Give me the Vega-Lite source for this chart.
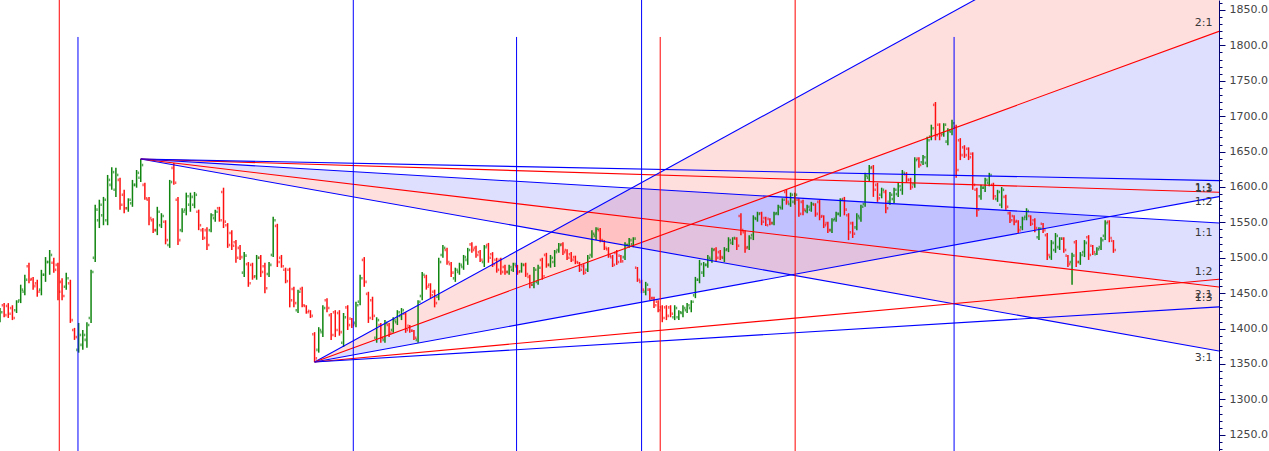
{
"$schema":"https://vega.github.io/schema/vega-lite/v6.json",
"width":1219,"height":451,
"autosize":{"type":"none"},
"padding":{"left":0,"top":0,"right":50,"bottom":0},
"background":"white",
"config":{"view":{"stroke":null}},
"resolve":{"scale":{"y":"shared","x":"shared"},"axis":{"y":"independent"}},
"datasets":{
"bars":[
{"t":0,"o":1415,"h":1429,"l":1409,"c":1423},{"t":1,"o":1433,"h":1436,"l":1416,"c":1419},{"t":2,"o":1432,"h":1436,"l":1415,"c":1421},{"t":3,"o":1429,"h":1433,"l":1412,"c":1415},{"t":4,"o":1426,"h":1440,"l":1422,"c":1438},{"t":5,"o":1440,"h":1462,"l":1436,"c":1455},{"t":6,"o":1452,"h":1476,"l":1447,"c":1469},{"t":7,"o":1488,"h":1493,"l":1464,"c":1469},{"t":8,"o":1470,"h":1473,"l":1455,"c":1460},{"t":9,"o":1464,"h":1469,"l":1445,"c":1452},
{"t":10,"o":1455,"h":1483,"l":1447,"c":1476},{"t":11,"o":1476,"h":1501,"l":1466,"c":1494},{"t":12,"o":1494,"h":1511,"l":1476,"c":1504},{"t":13,"o":1493,"h":1500,"l":1479,"c":1483},{"t":14,"o":1490,"h":1493,"l":1440,"c":1452},{"t":15,"o":1466,"h":1471,"l":1440,"c":1446},{"t":16,"o":1459,"h":1479,"l":1455,"c":1471},{"t":17,"o":1464,"h":1469,"l":1408,"c":1412},{"t":18,"o":1398,"h":1401,"l":1384,"c":1388},{"t":19,"o":1370,"h":1408,"l":1366,"c":1391},
{"t":20,"o":1377,"h":1398,"l":1370,"c":1391},{"t":21,"o":1384,"h":1409,"l":1373,"c":1405},{"t":22,"o":1415,"h":1483,"l":1408,"c":1480},{"t":23,"o":1500,"h":1575,"l":1494,"c":1568},{"t":24,"o":1553,"h":1582,"l":1542,"c":1575},{"t":25,"o":1560,"h":1586,"l":1546,"c":1582},{"t":26,"o":1553,"h":1617,"l":1546,"c":1610},{"t":27,"o":1603,"h":1628,"l":1596,"c":1621},{"t":28,"o":1596,"h":1627,"l":1586,"c":1617},{"t":29,"o":1610,"h":1613,"l":1568,"c":1575},
{"t":30,"o":1589,"h":1596,"l":1563,"c":1570},{"t":31,"o":1570,"h":1584,"l":1565,"c":1582},{"t":32,"o":1577,"h":1610,"l":1572,"c":1603},{"t":33,"o":1603,"h":1624,"l":1599,"c":1620},{"t":34,"o":1613,"h":1639.5,"l":1607,"c":1631},{"t":35,"o":1603,"h":1606,"l":1582,"c":1584},{"t":36,"o":1582,"h":1586,"l":1546,"c":1556},{"t":37,"o":1553,"h":1556,"l":1535,"c":1539},{"t":38,"o":1539,"h":1572,"l":1532,"c":1565},{"t":39,"o":1546,"h":1563,"l":1542,"c":1559},
{"t":40,"o":1551,"h":1553,"l":1519,"c":1525},{"t":41,"o":1518,"h":1610,"l":1514,"c":1607},{"t":42,"o":1627,"h":1634,"l":1603,"c":1606},{"t":43,"o":1582,"h":1586,"l":1518,"c":1525},{"t":44,"o":1539,"h":1570,"l":1536,"c":1565},{"t":45,"o":1568,"h":1592,"l":1560,"c":1587},{"t":46,"o":1575,"h":1592,"l":1565,"c":1586},{"t":47,"o":1575,"h":1593,"l":1570,"c":1589},{"t":48,"o":1565,"h":1568,"l":1539,"c":1546},{"t":49,"o":1539,"h":1542,"l":1525,"c":1528},
{"t":50,"o":1539,"h":1543,"l":1511,"c":1518},{"t":51,"o":1539,"h":1563,"l":1536,"c":1560},{"t":52,"o":1556,"h":1568,"l":1551,"c":1565},{"t":53,"o":1570,"h":1572,"l":1551,"c":1553},{"t":54,"o":1593,"h":1599,"l":1542,"c":1551},{"t":55,"o":1546,"h":1549,"l":1514,"c":1518},{"t":56,"o":1535,"h":1539,"l":1511,"c":1517},{"t":57,"o":1522,"h":1525,"l":1493,"c":1500},{"t":58,"o":1514,"h":1518,"l":1497,"c":1501},{"t":59,"o":1479,"h":1508,"l":1473,"c":1503},
{"t":60,"o":1491,"h":1494,"l":1459,"c":1464},{"t":61,"o":1490,"h":1493,"l":1469,"c":1473},{"t":62,"o":1474,"h":1504,"l":1469,"c":1500},{"t":63,"o":1500,"h":1504,"l":1473,"c":1480},{"t":64,"o":1488,"h":1493,"l":1450,"c":1457},{"t":65,"o":1477,"h":1494,"l":1473,"c":1490},{"t":66,"o":1504,"h":1558,"l":1501,"c":1553},{"t":67,"o":1545,"h":1548,"l":1487,"c":1494},{"t":68,"o":1500,"h":1504,"l":1486,"c":1488},{"t":69,"o":1483,"h":1486,"l":1464,"c":1467},
{"t":70,"o":1483,"h":1486,"l":1430,"c":1440},{"t":71,"o":1456,"h":1459,"l":1430,"c":1436},{"t":72,"o":1426,"h":1455,"l":1422,"c":1452},{"t":73,"o":1456,"h":1459,"l":1430,"c":1433},{"t":74,"o":1432,"h":1433,"l":1421,"c":1423},{"t":75,"o":1425,"h":1426,"l":1415,"c":1418},{"t":76,"o":1392,"h":1395,"l":1352.8,"c":1358},{"t":77,"o":1370,"h":1402,"l":1366,"c":1398},{"t":78,"o":1395,"h":1433,"l":1388,"c":1429},{"t":79,"o":1440,"h":1443,"l":1423,"c":1429},
{"t":80,"o":1419,"h":1422,"l":1384,"c":1391},{"t":81,"o":1423,"h":1426,"l":1388,"c":1398},{"t":82,"o":1422,"h":1426,"l":1390,"c":1395},{"t":83,"o":1380,"h":1422,"l":1374,"c":1416},{"t":84,"o":1430,"h":1433,"l":1398,"c":1405},{"t":85,"o":1414,"h":1415,"l":1401,"c":1405},{"t":86,"o":1408,"h":1438,"l":1402,"c":1433},{"t":87,"o":1438,"h":1476,"l":1433,"c":1471},{"t":88,"o":1497,"h":1501,"l":1459,"c":1466},{"t":89,"o":1449,"h":1452,"l":1408,"c":1415},
{"t":90,"o":1440,"h":1445,"l":1412,"c":1418},{"t":91,"o":1387,"h":1416,"l":1380,"c":1412},{"t":92,"o":1405,"h":1408,"l":1380,"c":1387},{"t":93,"o":1384,"h":1412,"l":1380,"c":1408},{"t":94,"o":1405,"h":1408,"l":1388,"c":1394},{"t":95,"o":1398,"h":1416,"l":1394,"c":1412},{"t":96,"o":1409,"h":1426,"l":1405,"c":1423},{"t":97,"o":1418,"h":1429,"l":1412,"c":1426},{"t":98,"o":1421,"h":1423,"l":1394,"c":1398},{"t":99,"o":1404,"h":1405,"l":1394,"c":1397},
{"t":100,"o":1397,"h":1398,"l":1384,"c":1387},{"t":101,"o":1384,"h":1440,"l":1380,"c":1438},{"t":102,"o":1446,"h":1480,"l":1440,"c":1476},{"t":103,"o":1473,"h":1476,"l":1455,"c":1459},{"t":104,"o":1462,"h":1464,"l":1443,"c":1447},{"t":105,"o":1452,"h":1455,"l":1430,"c":1436},{"t":106,"o":1445,"h":1500,"l":1440,"c":1494},{"t":107,"o":1504,"h":1518,"l":1500,"c":1514},{"t":108,"o":1511,"h":1514,"l":1490,"c":1494},{"t":109,"o":1491,"h":1494,"l":1473,"c":1479},
{"t":110,"o":1471,"h":1486,"l":1466,"c":1483},{"t":111,"o":1480,"h":1493,"l":1476,"c":1490},{"t":112,"o":1487,"h":1504,"l":1483,"c":1501},{"t":113,"o":1497,"h":1514,"l":1490,"c":1511},{"t":114,"o":1519,"h":1522,"l":1507,"c":1511},{"t":115,"o":1514,"h":1517,"l":1500,"c":1504},{"t":116,"o":1508,"h":1511,"l":1494,"c":1497},{"t":117,"o":1494,"h":1518,"l":1487,"c":1515},{"t":118,"o":1518,"h":1521,"l":1493,"c":1500},{"t":119,"o":1505,"h":1508,"l":1487,"c":1491},
{"t":120,"o":1497,"h":1500,"l":1479,"c":1483},{"t":121,"o":1497,"h":1500,"l":1476,"c":1480},{"t":122,"o":1487,"h":1490,"l":1476,"c":1480},{"t":123,"o":1480,"h":1490,"l":1476,"c":1487},{"t":124,"o":1483,"h":1493,"l":1480,"c":1491},{"t":125,"o":1488,"h":1490,"l":1476,"c":1480},{"t":126,"o":1481,"h":1493,"l":1479,"c":1490},{"t":127,"o":1490,"h":1493,"l":1473,"c":1477},{"t":128,"o":1473,"h":1476,"l":1457,"c":1462},{"t":129,"o":1462,"h":1487,"l":1457,"c":1483},
{"t":130,"o":1466,"h":1490,"l":1462,"c":1486},{"t":131,"o":1497,"h":1500,"l":1469,"c":1474},{"t":132,"o":1504,"h":1507,"l":1486,"c":1490},{"t":133,"o":1490,"h":1504,"l":1486,"c":1500},{"t":134,"o":1494,"h":1511,"l":1487,"c":1508},{"t":135,"o":1511,"h":1521,"l":1507,"c":1518},{"t":136,"o":1519,"h":1522,"l":1504,"c":1508},{"t":137,"o":1511,"h":1512,"l":1497,"c":1500},{"t":138,"o":1505,"h":1508,"l":1494,"c":1497},{"t":139,"o":1501,"h":1503,"l":1491,"c":1494},
{"t":140,"o":1493,"h":1494,"l":1480,"c":1483},{"t":141,"o":1488,"h":1491,"l":1476,"c":1479},{"t":142,"o":1483,"h":1504,"l":1480,"c":1500},{"t":143,"o":1504,"h":1539,"l":1500,"c":1534},{"t":144,"o":1531,"h":1543,"l":1525,"c":1541},{"t":145,"o":1539,"h":1542,"l":1522,"c":1525},{"t":146,"o":1524,"h":1525,"l":1511,"c":1514},{"t":147,"o":1512,"h":1515,"l":1500,"c":1503},{"t":148,"o":1501,"h":1504,"l":1487,"c":1490},{"t":149,"o":1507,"h":1511,"l":1490,"c":1494},
{"t":150,"o":1503,"h":1504,"l":1493,"c":1495},{"t":151,"o":1501,"h":1522,"l":1497,"c":1518},{"t":152,"o":1518,"h":1528,"l":1514,"c":1525},{"t":153,"o":1519,"h":1529,"l":1515,"c":1527},{"t":154,"o":1486,"h":1487,"l":1466,"c":1469},{"t":155,"o":1466,"h":1469,"l":1450,"c":1455},{"t":156,"o":1452,"h":1466,"l":1447,"c":1462},{"t":157,"o":1455,"h":1457,"l":1440,"c":1443},{"t":158,"o":1443,"h":1445,"l":1429,"c":1433},{"t":159,"o":1438,"h":1440,"l":1423,"c":1426},
{"t":160,"o":1430,"h":1433,"l":1409,"c":1415},{"t":161,"o":1430,"h":1433,"l":1412,"c":1418},{"t":162,"o":1430,"h":1433,"l":1416,"c":1421},{"t":163,"o":1416,"h":1433,"l":1412,"c":1429},{"t":164,"o":1416,"h":1426,"l":1412,"c":1423},{"t":165,"o":1422,"h":1433,"l":1416,"c":1429},{"t":166,"o":1426,"h":1436,"l":1422,"c":1433},{"t":167,"o":1429,"h":1440,"l":1423,"c":1438},{"t":168,"o":1447,"h":1473,"l":1443,"c":1469},{"t":169,"o":1469,"h":1497,"l":1464,"c":1491},
{"t":170,"o":1479,"h":1494,"l":1473,"c":1490},{"t":171,"o":1490,"h":1504,"l":1486,"c":1500},{"t":172,"o":1497,"h":1514,"l":1493,"c":1511},{"t":173,"o":1512,"h":1515,"l":1494,"c":1500},{"t":174,"o":1508,"h":1511,"l":1497,"c":1501},{"t":175,"o":1500,"h":1515,"l":1494,"c":1511},{"t":176,"o":1512,"h":1529,"l":1508,"c":1525},{"t":177,"o":1521,"h":1529,"l":1518,"c":1528},{"t":178,"o":1527,"h":1529,"l":1511,"c":1517},{"t":179,"o":1559,"h":1563,"l":1532,"c":1539},
{"t":180,"o":1536,"h":1539,"l":1507,"c":1514},{"t":181,"o":1515,"h":1532,"l":1511,"c":1528},{"t":182,"o":1532,"h":1560,"l":1525,"c":1556},{"t":183,"o":1555,"h":1565,"l":1551,"c":1562},{"t":184,"o":1563,"h":1565,"l":1546,"c":1551},{"t":185,"o":1556,"h":1558,"l":1545,"c":1546},{"t":186,"o":1555,"h":1556,"l":1546,"c":1549},{"t":187,"o":1549,"h":1565,"l":1546,"c":1562},{"t":188,"o":1563,"h":1575,"l":1560,"c":1572},{"t":189,"o":1570,"h":1584,"l":1568,"c":1582},
{"t":190,"o":1593,"h":1596,"l":1575,"c":1579},{"t":191,"o":1576,"h":1592,"l":1572,"c":1589},{"t":192,"o":1579,"h":1592,"l":1575,"c":1589},{"t":193,"o":1582,"h":1584,"l":1558,"c":1562},{"t":194,"o":1579,"h":1582,"l":1560,"c":1568},{"t":195,"o":1566,"h":1575,"l":1563,"c":1572},{"t":196,"o":1568,"h":1579,"l":1565,"c":1576},{"t":197,"o":1575,"h":1577,"l":1558,"c":1562},{"t":198,"o":1579,"h":1582,"l":1553,"c":1558},{"t":199,"o":1559,"h":1560,"l":1542,"c":1546},
{"t":200,"o":1549,"h":1551,"l":1535,"c":1539},{"t":201,"o":1539,"h":1556,"l":1535,"c":1553},{"t":202,"o":1555,"h":1565,"l":1551,"c":1562},{"t":203,"o":1562,"h":1584,"l":1558,"c":1582},{"t":204,"o":1583,"h":1586,"l":1560,"c":1568},{"t":205,"o":1560,"h":1563,"l":1525,"c":1536},{"t":206,"o":1549,"h":1551,"l":1528,"c":1534},{"t":207,"o":1543,"h":1563,"l":1539,"c":1559},{"t":208,"o":1556,"h":1575,"l":1551,"c":1572},{"t":209,"o":1576,"h":1620,"l":1572,"c":1616},
{"t":210,"o":1613,"h":1631,"l":1607,"c":1627},{"t":211,"o":1628,"h":1631,"l":1586,"c":1596},{"t":212,"o":1603,"h":1606,"l":1579,"c":1584},{"t":213,"o":1589,"h":1599,"l":1584,"c":1596},{"t":214,"o":1593,"h":1596,"l":1563,"c":1570},{"t":215,"o":1579,"h":1593,"l":1575,"c":1589},{"t":216,"o":1583,"h":1599,"l":1577,"c":1596},{"t":217,"o":1590,"h":1606,"l":1586,"c":1601},{"t":218,"o":1596,"h":1624,"l":1589,"c":1620},{"t":219,"o":1618,"h":1621,"l":1606,"c":1610},
{"t":220,"o":1610,"h":1613,"l":1596,"c":1600},{"t":221,"o":1604,"h":1642,"l":1599,"c":1638},{"t":222,"o":1640,"h":1642,"l":1627,"c":1631},{"t":223,"o":1635,"h":1645,"l":1631,"c":1642},{"t":224,"o":1634,"h":1671,"l":1628,"c":1666},{"t":225,"o":1671,"h":1688,"l":1666,"c":1683},{"t":226,"o":1716,"h":1720,"l":1666,"c":1673},{"t":227,"o":1688,"h":1690,"l":1666,"c":1673},{"t":228,"o":1675,"h":1690,"l":1671,"c":1688},{"t":229,"o":1664,"h":1683,"l":1659,"c":1680},
{"t":230,"o":1678,"h":1695,"l":1673,"c":1690},{"t":231,"o":1685,"h":1688,"l":1613,"c":1624},{"t":232,"o":1666,"h":1669,"l":1638,"c":1645},{"t":233,"o":1656,"h":1659,"l":1641,"c":1645},{"t":234,"o":1654,"h":1656,"l":1638,"c":1642},{"t":235,"o":1647,"h":1649,"l":1596,"c":1603},{"t":236,"o":1596,"h":1599,"l":1558,"c":1568},{"t":237,"o":1587,"h":1603,"l":1582,"c":1599},{"t":238,"o":1599,"h":1613,"l":1593,"c":1610},{"t":239,"o":1606,"h":1620,"l":1601,"c":1617},
{"t":240,"o":1603,"h":1606,"l":1582,"c":1587},{"t":241,"o":1583,"h":1596,"l":1579,"c":1593},{"t":242,"o":1575,"h":1600,"l":1570,"c":1596},{"t":243,"o":1586,"h":1589,"l":1568,"c":1572},{"t":244,"o":1563,"h":1565,"l":1549,"c":1553},{"t":245,"o":1559,"h":1560,"l":1546,"c":1551},{"t":246,"o":1552,"h":1553,"l":1535,"c":1539},{"t":247,"o":1543,"h":1558,"l":1539,"c":1555},{"t":248,"o":1558,"h":1570,"l":1553,"c":1566},{"t":249,"o":1559,"h":1560,"l":1545,"c":1548},
{"t":250,"o":1553,"h":1556,"l":1536,"c":1542},{"t":251,"o":1529,"h":1543,"l":1525,"c":1541},{"t":252,"o":1548,"h":1549,"l":1535,"c":1539},{"t":253,"o":1532,"h":1535,"l":1497,"c":1504},{"t":254,"o":1501,"h":1525,"l":1497,"c":1521},{"t":255,"o":1511,"h":1535,"l":1507,"c":1531},{"t":256,"o":1515,"h":1529,"l":1511,"c":1527},{"t":257,"o":1527,"h":1529,"l":1507,"c":1511},{"t":258,"o":1503,"h":1504,"l":1487,"c":1491},{"t":259,"o":1494,"h":1507,"l":1462,"c":1503},
{"t":260,"o":1522,"h":1525,"l":1487,"c":1494},{"t":261,"o":1494,"h":1508,"l":1490,"c":1504},{"t":262,"o":1508,"h":1525,"l":1501,"c":1521},{"t":263,"o":1529,"h":1532,"l":1497,"c":1504},{"t":264,"o":1517,"h":1518,"l":1504,"c":1508},{"t":265,"o":1505,"h":1515,"l":1504,"c":1512},{"t":266,"o":1515,"h":1529,"l":1511,"c":1525},{"t":267,"o":1531,"h":1553,"l":1525,"c":1549},{"t":268,"o":1551,"h":1553,"l":1522,"c":1528},{"t":269,"o":1524,"h":1525,"l":1507,"c":1511}
],
"fills":[
{"fan":"L","sector":"2:1-3:1","t":76,"p1":1352.8,"p2":1352.8},{"fan":"L","sector":"2:1-3:1","t":294.5,"p1":2053.5,"p2":1819.9},
{"fan":"L","sector":"1:1-2:1","t":76,"p1":1352.8,"p2":1352.8},{"fan":"L","sector":"1:1-2:1","t":294.5,"p1":1819.9,"p2":1586.4},
{"fan":"H","sector":"2:1-3:1","t":34,"p1":1639.5,"p2":1639.5},{"fan":"H","sector":"2:1-3:1","t":294.5,"p1":1458.7,"p2":1368.3},
{"fan":"H","sector":"1:1-2:1","t":34,"p1":1639.5,"p2":1639.5},{"fan":"H","sector":"1:1-2:1","t":294.5,"p1":1549.1,"p2":1458.7}
],
"fans":[
{"fan":"H","r":"3:1","t":34,"p":1639.5},{"fan":"H","r":"3:1","t":294.5,"p":1368.3},
{"fan":"H","r":"2:1","t":34,"p":1639.5},{"fan":"H","r":"2:1","t":294.5,"p":1458.7},
{"fan":"H","r":"1:1","t":34,"p":1639.5},{"fan":"H","r":"1:1","t":294.5,"p":1549.1},
{"fan":"H","r":"1:2","t":34,"p":1639.5},{"fan":"H","r":"1:2","t":294.5,"p":1592.5},
{"fan":"H","r":"1:3","t":34,"p":1639.5},{"fan":"H","r":"1:3","t":294.5,"p":1609.0},
{"fan":"L","r":"3:1","t":76,"p":1352.8},{"fan":"L","r":"3:1","t":294.5,"p":2053.5},
{"fan":"L","r":"2:1","t":76,"p":1352.8},{"fan":"L","r":"2:1","t":294.5,"p":1819.9},
{"fan":"L","r":"1:1","t":76,"p":1352.8},{"fan":"L","r":"1:1","t":294.5,"p":1586.4},
{"fan":"L","r":"1:2","t":76,"p":1352.8},{"fan":"L","r":"1:2","t":294.5,"p":1469.6},
{"fan":"L","r":"1:3","t":76,"p":1352.8},{"fan":"L","r":"1:3","t":294.5,"p":1430.7}
],
"cycles":[
{"t":14.32,"s":"A","top":1864.1,"bot":1227.1},{"t":18.84,"s":"B","top":1811.9,"bot":1227.1},{"t":85.35,"s":"B","top":1864.1,"bot":1227.1},{"t":124.8,"s":"B","top":1811.9,"bot":1227.1},{"t":155.0,"s":"B","top":1864.1,"bot":1227.1},{"t":159.5,"s":"A","top":1811.9,"bot":1227.1},{"t":192.1,"s":"A","top":1864.1,"bot":1227.1},{"t":230.5,"s":"B","top":1811.9,"bot":1227.1}
],
"labels":[
{"lab":"2:1","t":292.9,"p":1832.0},{"lab":"1:3","t":292.9,"p":1597.5},{"lab":"1:1","t":292.9,"p":1599.0},{"lab":"1:2","t":292.9,"p":1579.2},{"lab":"1:1","t":292.9,"p":1535.7},{"lab":"1:2","t":292.9,"p":1480.6},{"lab":"2:1","t":292.9,"p":1448.1},{"lab":"1:3","t":292.9,"p":1442.5},{"lab":"3:1","t":292.9,"p":1358.4}
]
},
"layer":[
{"data":{"name":"fills"},
 "mark":{"type":"area","clip":true,"fillOpacity":0.13},
 "encoding":{
  "x":{"field":"t","type":"quantitative","scale":{"domain":[0,294.5],"nice":false,"zero":false},"axis":null},
  "y":{"field":"p1","type":"quantitative","stack":null,"scale":{"domain":[1227.1,1864.1],"nice":false,"zero":false},
     "axis":{"orient":"right","title":null,"grid":false,
     "values":[1250,1300,1350,1400,1450,1500,1550,1600,1650,1700,1750,1800,1850],
     "format":".1f","tickSize":6,
     "domainColor":"#000070","tickColor":"#000070","labelColor":"#454545","labelFont":"DejaVu Sans","labelFontSize":11,"labelPadding":4,"labelOverlap":false,"labelFlush":false}},
  "y2":{"field":"p2"},
  "fill":{"field":"sector","type":"nominal","scale":{"domain":["2:1-3:1","1:1-2:1"],"range":["#ff0000","#0000ff"]},"legend":null},
  "detail":{"field":"fan"}
 }},
{"data":{"name":"bars"},
 "mark":{"type":"rule","strokeWidth":1.5,"clip":true},
 "encoding":{
  "x":{"field":"t","type":"quantitative","axis":null},
  "y":{"field":"l","type":"quantitative","axis":null},
  "y2":{"field":"h"},
  "color":{"condition":{"test":"datum.c >= datum.o","value":"#108510"},"value":"#ff1010"}
 }},
{"data":{"name":"bars"},
 "mark":{"type":"tick","orient":"vertical","size":2.6,"thickness":1.4,"xOffset":-1.8,"clip":true},
 "encoding":{
  "x":{"field":"t","type":"quantitative","axis":null},
  "y":{"field":"o","type":"quantitative","axis":null},
  "color":{"condition":{"test":"datum.c >= datum.o","value":"#108510"},"value":"#ff1010"}
 }},
{"data":{"name":"bars"},
 "mark":{"type":"tick","orient":"vertical","size":2.6,"thickness":1.4,"xOffset":1.8,"clip":true},
 "encoding":{
  "x":{"field":"t","type":"quantitative","axis":null},
  "y":{"field":"c","type":"quantitative","axis":null},
  "color":{"condition":{"test":"datum.c >= datum.o","value":"#108510"},"value":"#ff1010"}
 }},
{"data":{"name":"fans"},
 "mark":{"type":"line","clip":true,"strokeWidth":1.1},
 "encoding":{
  "x":{"field":"t","type":"quantitative","axis":null},
  "y":{"field":"p","type":"quantitative","axis":null},
  "stroke":{"field":"r","type":"nominal","scale":{"domain":["3:1","2:1","1:1","1:2","1:3"],"range":["#0000ff","#ff0000","#0000ff","#ff0000","#0000ff"]},"legend":null},
  "detail":{"field":"fan"}
 }},
{"data":{"name":"cycles"},
 "mark":{"type":"rule","strokeWidth":1},
 "encoding":{
  "x":{"field":"t","type":"quantitative","axis":null},
  "y":{"field":"top","type":"quantitative",
     "axis":{"orient":"right","title":null,"grid":false,"labels":false,"domain":false,"tickSize":3,"tickColor":"#000070",
     "values":[1230,1240,1260,1270,1280,1290,1310,1320,1330,1340,1360,1370,1380,1390,1410,1420,1430,1440,1460,1470,1480,1490,1510,1520,1530,1540,1560,1570,1580,1590,1610,1620,1630,1640,1660,1670,1680,1690,1710,1720,1730,1740,1760,1770,1780,1790,1810,1820,1830,1840,1860]}},
  "y2":{"field":"bot"},
  "color":{"field":"s","type":"nominal","scale":{"domain":["A","B"],"range":["#ff0000","#0000ff"]},"legend":null}
 }},
{"data":{"name":"labels"},
 "mark":{"type":"text","align":"right","baseline":"middle","font":"DejaVu Sans","fontSize":11,"color":"#383838"},
 "encoding":{
  "x":{"field":"t","type":"quantitative","axis":null},
  "y":{"field":"p","type":"quantitative","axis":null},
  "text":{"field":"lab"}
 }}
]
}
